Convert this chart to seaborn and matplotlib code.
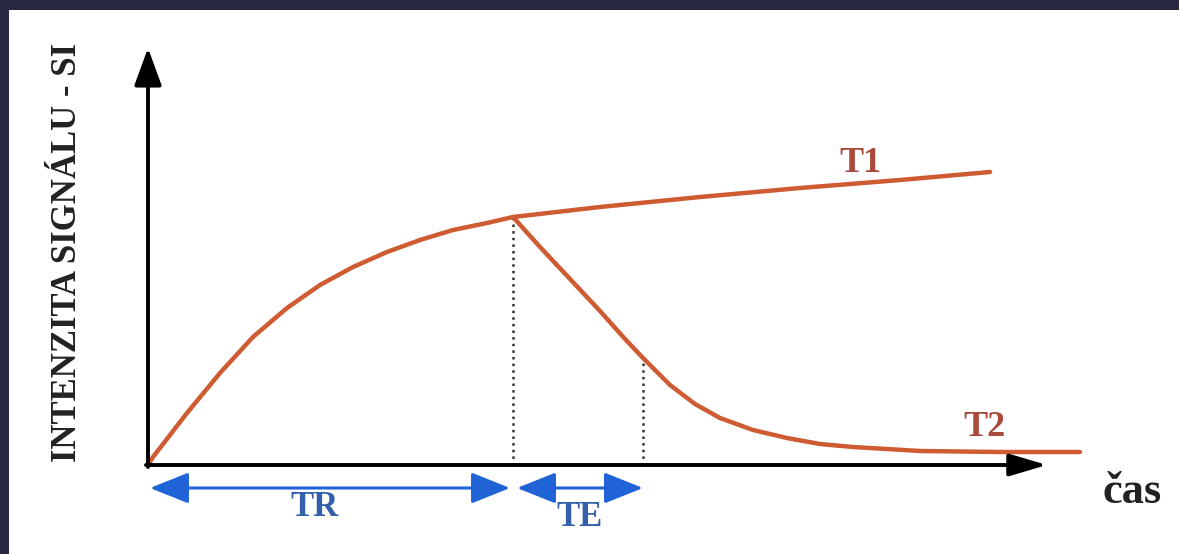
import numpy as np
import pandas as pd
import matplotlib
matplotlib.use("Agg")
import matplotlib.pyplot as plt
import seaborn as sns
from matplotlib.patches import Rectangle


# ─── Data (arbitrary time / signal units) ─────────────────────────────────────
t1_time   = [0, 5, 39, 72, 105, 139, 172, 205, 239, 272, 305, 339, 365,
             452, 552, 652, 752, 842]
t1_signal = [0, 8, 52, 92, 128, 157, 180, 198, 213, 225, 235, 242, 248,
             258, 268, 277, 285, 293]

t2_time   = [365, 392, 422, 452, 477, 495, 512, 522, 547, 572, 605, 639,
             672, 705, 739, 772, 852, 932]
t2_signal = [248, 218, 186, 154, 126, 107, 90, 80, 61, 47, 35, 27,
             21, 18, 16, 14, 13, 13]

TR = 365          # repetition time (end of T1 recovery shown)
TE = 495          # echo time end
T_MAX = 899       # x axis arrow tip
S_MAX = 417       # y axis arrow tip

curve_labels = ["T1", "T2"]
y_title = "INTENZITA SIGNÁLU - SI"
x_title = "čas"

# ─── Style ────────────────────────────────────────────────────────────────────
CURVE_COL = "#cf5b33"
CURVE_TXT = "#a94a3a"
BLUE_ARR  = "#1f63d6"
BLUE_TXT  = "#3360a8"
FRAME_COL = "#272840"

sns.set_theme(style="white")
plt.rcParams["font.family"] = ["Liberation Serif", "DejaVu Serif"]

df = pd.concat([
    pd.DataFrame({"time": t1_time, "signal": t1_signal, "curve": "T1"}),
    pd.DataFrame({"time": t2_time, "signal": t2_signal, "curve": "T2"}),
])

fig = plt.figure(figsize=(11.79, 5.54), dpi=100)
fig.patch.set_facecolor("white")

# dark frame strips (top and left)
fig.patches.append(Rectangle((0, 1 - 10 / 554), 1, 10 / 554, transform=fig.transFigure,
                             facecolor=FRAME_COL, edgecolor="none", zorder=0))
fig.patches.append(Rectangle((0, 0), 9 / 1179, 1, transform=fig.transFigure,
                             facecolor=FRAME_COL, edgecolor="none", zorder=0))

ax = fig.add_axes([0, 0, 1, 1])
ax.set_xlim(-148, 1031)
ax.set_ylim(-89, 465)
ax.set_axis_off()

# ─── Curves ───────────────────────────────────────────────────────────────────
sns.lineplot(data=df, x="time", y="signal", units="curve", estimator=None,
             color=CURVE_COL, linewidth=3.2, sort=False, ax=ax,
             solid_capstyle="round", solid_joinstyle="round", zorder=3)

# dotted guides at TR and TE
te_height = np.interp(TE, t2_time, t2_signal)
tr_height = np.interp(TR, t1_time, t1_signal)
ax.plot([TR, TR], [0, tr_height], ls=":", color="#333333", lw=1.8, zorder=2)
ax.plot([TE, TE], [0, te_height], ls=":", color="#333333", lw=1.8, zorder=2)

# ─── Axes arrows ──────────────────────────────────────────────────────────────
y_arrow = dict(arrowstyle="-|>,head_length=1.15,head_width=0.42",
               mutation_scale=20, color="black", lw=2.8,
               shrinkA=0, shrinkB=0)
x_arrow = dict(arrowstyle="-|>,head_length=1.15,head_width=0.34",
               mutation_scale=20, color="black", lw=2.8,
               shrinkA=0, shrinkB=0)
ax.annotate("", xy=(0, S_MAX), xytext=(0, -2), arrowprops=y_arrow, zorder=4)
ax.annotate("", xy=(T_MAX, 0), xytext=(-2, 0), arrowprops=x_arrow, zorder=4)

# ─── TR / TE spans ────────────────────────────────────────────────────────────
span_arrow = dict(arrowstyle="<|-|>,head_length=1.2,head_width=0.48",
                  mutation_scale=20, color=BLUE_ARR, lw=2.2,
                  shrinkA=0, shrinkB=0)
ax.annotate("", xy=(TR - 3, -23), xytext=(2, -23), arrowprops=span_arrow)
ax.annotate("", xy=(TE, -23), xytext=(TR + 4, -23), arrowprops=span_arrow)

ax.text(167, -43, "TR", color=BLUE_TXT, fontsize=25, fontweight="bold",
        ha="center", va="center")
ax.text(432, -52, "TE", color=BLUE_TXT, fontsize=25, fontweight="bold",
        ha="center", va="center")

# ─── Labels ───────────────────────────────────────────────────────────────────
ax.text(712, 301, curve_labels[0], color=CURVE_TXT, fontsize=26,
        fontweight="bold", ha="center", va="center")
ax.text(836, 37, curve_labels[1], color=CURVE_TXT, fontsize=26,
        fontweight="bold", ha="center", va="center")
ax.text(984, -38, x_title, color="#222222", fontsize=32, fontweight="bold",
        ha="center", va="baseline")
ax.text(-80, 212, y_title, color="#222222", fontsize=25, fontweight="bold",
        rotation=90, ha="center", va="center")

fig.savefig("out.png", dpi=100, facecolor=fig.get_facecolor())
plt.close(fig)
